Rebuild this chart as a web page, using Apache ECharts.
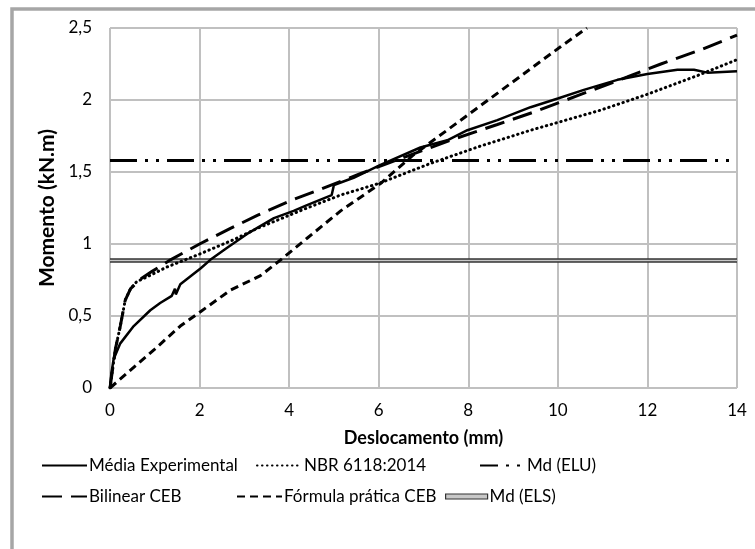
<!DOCTYPE html>
<html>
<head>
<meta charset="utf-8">
<script src="https://cdn.jsdelivr.net/npm/echarts@6/dist/echarts.min.js"></script>
<style>
html,body{margin:0;padding:0;background:#fff;}
#chart{width:755px;height:549px;}
</style>
</head>
<body>
<div id="chart"></div>
<script>
// ---- data ----
const xTicks = [0, 2, 4, 6, 8, 10, 12, 14];
const yTicks = [0, 0.5, 1, 1.5, 2, 2.5];

const mediaExperimental = [
  [0,0],[0.03,0.1],[0.08,0.2],[0.23,0.31],[0.53,0.43],[0.9,0.54],[1.12,0.59],[1.38,0.64],
  [1.45,0.69],[1.47,0.65],[1.57,0.72],[2.02,0.83],[2.24,0.89],[2.6,0.97],[3.06,1.07],
  [3.66,1.18],[4.1,1.23],[4.4,1.27],[4.95,1.34],[5.0,1.41],[5.44,1.46],[6.04,1.55],
  [6.93,1.67],[7.53,1.72],[7.98,1.79],[8.65,1.86],[9.39,1.95],[10,2.01],[10.58,2.07],
  [11.33,2.14],[12,2.18],[12.67,2.21],[13.04,2.21],[13.34,2.19],[14,2.2]
];
const nbr6118 = [
  [0,0],[0.12,0.27],[0.23,0.43],[0.34,0.61],[0.46,0.69],[0.6,0.74],[0.75,0.76],[1.27,0.84],
  [2,0.93],[2.76,1.03],[3.3,1.11],[4.4,1.25],[5.15,1.34],[6,1.42],[7.16,1.56],[8.27,1.68],
  [9.39,1.79],[10.96,1.93],[12,2.04],[13.12,2.17],[14,2.28]
];
const bilinearCEB = [
  [0,0],[0.12,0.27],[0.23,0.43],[0.34,0.61],[0.46,0.69],[0.7,0.76],[0.94,0.81],[1.35,0.89],
  [2,1.0],[2.7,1.11],[3.3,1.2],[4.1,1.31],[4.7,1.38],[5.6,1.49],[6.2,1.56],[7.6,1.72],
  [8.65,1.83],[9.5,1.92],[10.44,2.03],[11.55,2.16],[12.3,2.25],[13.2,2.35],[14,2.45]
];
const formulaPraticaCEB = [
  [0,0],[1,0.27],[1.57,0.43],[2.02,0.53],[2.69,0.68],[3.36,0.78],[3.81,0.89],[4.4,1.04],
  [5.15,1.23],[6.04,1.42],[6.78,1.62],[8.27,1.96],[10.06,2.37],[10.65,2.5]
];
const mdELU = [[0,1.58],[14,1.58]];
const mdELS = [[0,0.886],[14,0.886]];

const FONT = 'Lato, "Open Sans", sans-serif';

const chart = echarts.init(document.getElementById('chart'), null, {renderer:'canvas'});

function lg(name, left, rowY, extra) {
  return Object.assign({
    data: [{name: name, itemStyle: {opacity: 0}}],
    left: left, top: rowY - 9,
    itemWidth: 45, itemHeight: 18,
    padding: 0,
    selectedMode: false,
    textStyle: {fontFamily: FONT, fontSize: 17, color: '#000', padding: [0,0,0,-3]}
  }, extra || {});
}

const option = {
  animation: false,
  backgroundColor: '#fff',
  graphic: [{
    type: 'rect', silent: true,
    shape: {x: 12, y: 9, width: 780, height: 600},
    style: {fill: 'none', stroke: '#a6a6a6', lineWidth: 3.5}
  }],
  grid: {left: 110, right: 18, top: 28, bottom: 161, outerBoundsMode: 'none', containLabel: false},
  xAxis: {
    type: 'value', min: xTicks[0], max: xTicks[xTicks.length-1], interval: 2,
    name: 'Deslocamento (mm)', nameLocation: 'middle', nameGap: 41,
    nameTextStyle: {fontFamily: FONT, fontSize: 18, fontWeight: 'bold', color: '#000'},
    axisLine: {show: false}, axisTick: {show: false},
    axisLabel: {fontFamily: FONT, fontSize: 17, color: '#000', margin: 14},
    splitLine: {show: true, lineStyle: {color: '#c0c0c0', width: 2}}
  },
  yAxis: {
    type: 'value', min: yTicks[0], max: yTicks[yTicks.length-1], interval: 0.5,
    name: 'Momento (kN.m)', nameLocation: 'middle', nameGap: 52,
    nameTextStyle: {fontFamily: FONT, fontSize: 21, fontWeight: 'bold', color: '#000'},
    axisLine: {show: false}, axisTick: {show: false},
    axisLabel: {fontFamily: FONT, fontSize: 17, color: '#000', margin: 18,
      formatter: v => String(v).replace('.', ',')},
    splitLine: {show: true, lineStyle: {color: '#c0c0c0', width: 2}}
  },
  legend: [
    lg('Média Experimental', 41, 466),
    lg('NBR 6118:2014', 256, 466),
    Object.assign(lg('Md (ELU)', 479, 466), {
      data: [{name: 'Md (ELU)', itemStyle: {opacity: 0}, lineStyle: {type: [18, 8, 3, 8, 3, 8]}}]
    }),
    lg('Bilinear CEB', 41, 497),
    lg('Fórmula prática CEB', 236, 497),
    Object.assign(lg('Md (ELS)', 445, 497), {
      data: [{name: 'Md (ELS)', icon: 'rect', itemStyle: {color: '#c8c8c8', borderColor: '#333', borderWidth: 1.2}}],
      itemWidth: 42, itemHeight: 5, top: 497 - 9, symbolKeepAspect: false
    })
  ],
  series: [
    {name: 'Média Experimental', type: 'line', data: mediaExperimental, symbol: 'none', silent: true, z: 5,
      lineStyle: {color: '#000', width: 2.5, type: 'solid'}},
    {name: 'NBR 6118:2014', type: 'line', data: nbr6118, symbol: 'none', silent: true, z: 4,
      lineStyle: {color: '#000', width: 3, type: [0.5, 4.5], cap: 'round'}},
    {name: 'Md (ELU)', type: 'line', data: mdELU, symbol: 'none', silent: true, z: 3,
      lineStyle: {color: '#000', width: 3, type: [27, 8, 3, 8, 3, 8]}},
    {name: 'Bilinear CEB', type: 'line', data: bilinearCEB, symbol: 'none', silent: true, z: 4,
      lineStyle: {color: '#000', width: 3, type: [20, 9]}},
    {name: 'Fórmula prática CEB', type: 'line', data: formulaPraticaCEB, symbol: 'none', silent: true, z: 4,
      lineStyle: {color: '#000', width: 3, type: [8, 5]}},
    {name: 'Md (ELS)', type: 'line', data: mdELS, symbol: 'none', silent: true, z: 3,
      lineStyle: {color: '#333', width: 4.5}},
    {name: 'Md (ELS) inner', type: 'line', data: mdELS, symbol: 'none', silent: true, z: 3,
      lineStyle: {color: '#c8c8c8', width: 1.5}}
  ]
};
chart.setOption(option);
</script>
</body>
</html>
